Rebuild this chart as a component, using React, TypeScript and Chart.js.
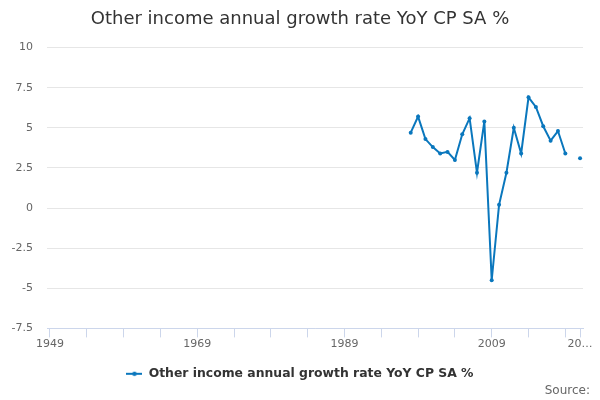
import React, { useRef, useEffect } from 'react';
import Chart from 'chart.js/auto';

const years = [1998, 1999, 2000, 2001, 2002, 2003, 2004, 2005, 2006, 2007, 2008, 2009,
    2010, 2011, 2012, 2013, 2014, 2015, 2016, 2017, 2018, 2019, 2020, 2021];
const growth = [4.7, 5.7, 4.3, 3.8, 3.4, 3.5, 3.0, 4.6, 5.6, 2.2, 5.4, -4.5,
    0.2, 2.2, 5.0, 3.4, 6.9, 6.3, 5.1, 4.2, 4.8, 3.4, null, 3.1];
const tickYears = [1949, 1954, 1959, 1964, 1969, 1974, 1979, 1984, 1989, 1994, 1999, 2004, 2009, 2014, 2019, 2021];
const labelYears = [1949, 1969, 1989, 2009];
const seriesName = 'Other income annual growth rate YoY CP SA %';
const sourceText = 'Source:';
const blue = '#0a77bd';

const legendIcon = () => {
    const c = document.createElement('canvas');
    c.width = 16;
    c.height = 6;
    const g = c.getContext('2d');
    if (g) {
        g.strokeStyle = blue;
        g.lineWidth = 2;
        g.beginPath();
        g.moveTo(0, 3);
        g.lineTo(16, 3);
        g.stroke();
        g.fillStyle = blue;
        g.beginPath();
        g.arc(8, 3, 2.2, 0, Math.PI * 2);
        g.fill();
    }
    return c;
};

// "Source:" sits in the bottom right corner, independent of the chart area
const sourcePlugin = {
    id: 'sourceNote',
    afterDraw: (chart: Chart) => {
        const c = chart.ctx;
        c.save();
        c.font = "12px 'DejaVu Sans', sans-serif";
        c.fillStyle = '#666666';
        c.textAlign = 'right';
        c.textBaseline = 'middle';
        c.fillText(sourceText, 590, 391);
        c.restore();
    },
};

const App: React.FC = () => {
    const chartRef = useRef<HTMLCanvasElement>(null);

    useEffect(() => {
        document.body.style.margin = '0';
        const ctx = chartRef.current?.getContext('2d');
        if (!ctx) return;
        Chart.defaults.font.family = "'DejaVu Sans', sans-serif";
        const icon = legendIcon();

        const chart = new Chart(ctx, {
            type: 'line',
            data: {
                datasets: [
                    {
                        label: seriesName,
                        data: years.map((y, i) => ({ x: y, y: growth[i] })),
                        borderColor: blue,
                        backgroundColor: blue,
                        borderWidth: 2,
                        pointRadius: 2,
                        pointBorderWidth: 0,
                        pointHoverRadius: 3,
                        fill: false,
                        tension: 0,
                        spanGaps: false,
                    }
                ]
            },
            plugins: [sourcePlugin],
            options: {
                responsive: false,
                animation: false,
                layout: { padding: { left: 0, right: 0, bottom: 10 } },
                plugins: {
                    title: {
                        display: true,
                        text: seriesName,
                        color: '#333333',
                        font: { size: 18, weight: 'normal' },
                        padding: { top: 9, bottom: 17 },
                    },
                    legend: {
                        position: 'bottom',
                        labels: {
                            usePointStyle: true,
                            pointStyleWidth: 16,
                            color: '#333333',
                            font: { size: 12.4, weight: 'bold' },
                            padding: 17,
                            generateLabels: (ch) => {
                                const items = Chart.defaults.plugins.legend.labels.generateLabels(ch);
                                return items.map(it => ({ ...it, pointStyle: icon }));
                            },
                        },
                    },
                    tooltip: { enabled: false },
                },
                scales: {
                    x: {
                        type: 'linear',
                        min: 1948.6,
                        max: 2021.4,
                        afterBuildTicks: (scale) => {
                            scale.ticks = tickYears.map(v => ({ value: v }));
                        },
                        ticks: {
                            autoSkip: false,
                            maxRotation: 0,
                            minRotation: 0,
                            color: '#666666',
                            font: { size: 11 },
                            padding: 0,
                            callback: (value) => {
                                const v = Number(value);
                                if (labelYears.includes(v)) return String(v);
                                if (v === tickYears[tickYears.length - 1]) return '20…';
                                return '';
                            },
                        },
                        grid: {
                            drawOnChartArea: false,
                            drawTicks: true,
                            tickLength: 9,
                            tickColor: '#ccd6eb',
                        },
                        border: { color: '#ccd6eb', width: 1 },
                    },
                    y: {
                        min: -7.5,
                        max: 10,
                        afterFit: (scale) => {
                            scale.width = 47;
                        },
                        ticks: {
                            stepSize: 2.5,
                            color: '#666666',
                            font: { size: 11 },
                            padding: 14,
                        },
                        grid: {
                            color: '#e6e6e6',
                            drawTicks: false,
                        },
                        border: { display: false },
                    },
                    // empty right-hand axis that only reserves the right margin
                    yRight: {
                        position: 'right',
                        display: true,
                        afterFit: (scale) => {
                            scale.width = 17;
                        },
                        ticks: { display: false },
                        grid: { display: false, drawTicks: false },
                        border: { display: false },
                    },
                }
            }
        });

        return () => chart.destroy();
    }, []);

    return <canvas ref={chartRef} width={600} height={400} />;
};

export default App;
